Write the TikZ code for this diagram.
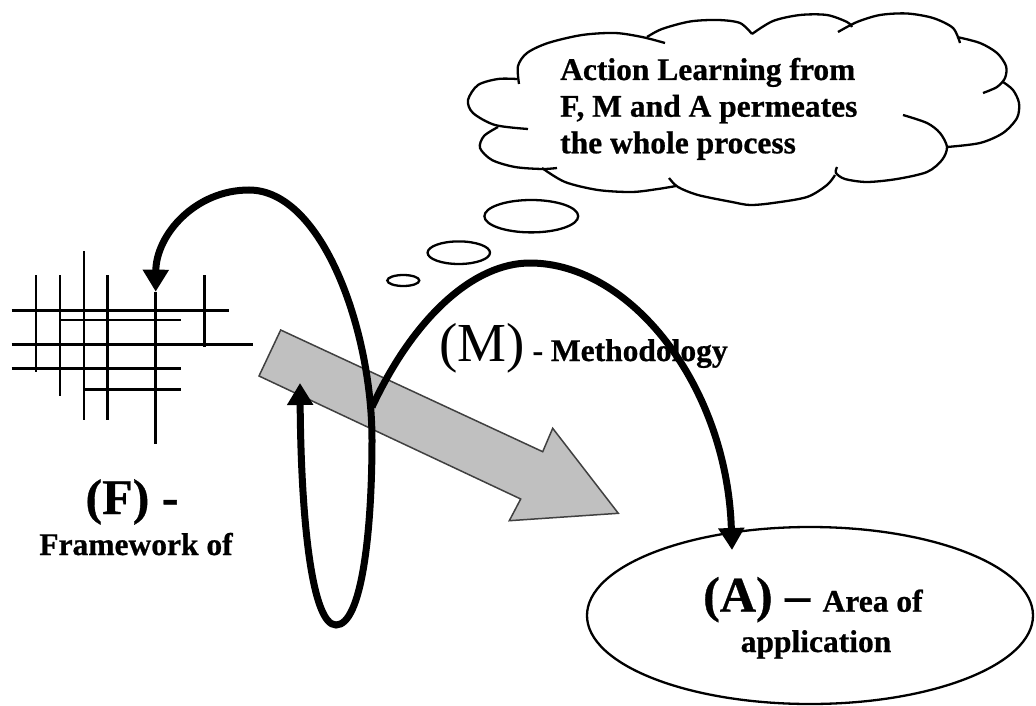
\documentclass[tikz,border=0pt]{standalone}
\usepackage{fontspec}
\setmainfont{Liberation Serif}[BoldFeatures={FakeBold=0.7}]
\usetikzlibrary{arrows.meta,shapes.geometric}
\definecolor{shaftgrey}{RGB}{192,192,192}
\definecolor{shaftedge}{RGB}{64,64,64}
\newcommand\hugelab{\fontsize{50}{54}\selectfont}
\newcommand\mlabfont{\fontsize{55}{58}\selectfont}
\newcommand\smalllab{\fontsize{31.5}{36}\selectfont\bfseries}
\begin{document}
\begin{tikzpicture}[x=1pt,y=-1pt,
  gridline/.style={line width=2.5pt},
  thinline/.style={line width=2.3pt},
  curve/.style={line width=7pt},
  bigtip/.tip={Triangle[length=22pt,width=25pt]},
  lab/.style={inner sep=0pt}]
\fill[white] (0,0) rectangle (1036,706);
\useasboundingbox (0,0) rectangle (1036,706);

% framework grid
\draw[gridline] (36,275) -- (36,371.7)
                (60,275) -- (60,395.7)
                (84,251) -- (84,420)
                (107.7,275) -- (107.7,420)
                (155.7,291.7) -- (155.7,444)
                (204.3,275) -- (204.3,347);
\draw[gridline] (11.7,310.7) -- (228.7,310.7)
                (60,320) -- (180.7,320)
                (11.7,344.3) -- (252.7,344.3)
                (11.7,368.3) -- (180.7,368.3)
                (84,389.3) -- (180.7,389.3);

% grey block arrow
\draw[fill=shaftgrey, draw=shaftedge, line width=1.5pt]
  (280.7,330) -- (542.7,451.7) -- (552.7,428.3) -- (618.3,513.3)
  -- (509.3,520.7) -- (520.7,499) -- (259,376) -- cycle;

% application area
\node[draw, ellipse, line width=2.3pt, minimum width=446pt, minimum height=177pt] (area) at (810,615.5) {};

% named ends of the loops
\coordinate (gridtop) at (155.7,291.7);
\coordinate (looptip) at (300,383);
\coordinate (arcfoot) at (372,407);
\coordinate (areatip) at (732,550);

% loop back to the framework
\draw[curve, {bigtip}-{bigtip}] (looptip)
  .. controls (301,520) and (312,625) .. (336,625)
  .. controls (362,625) and (372,530) .. (372,440)
  .. controls (372,330) and (322,190) .. (249,190)
  .. controls (195,190) and (156,235) .. (gridtop);

% arc towards the application area
\draw[curve, -{bigtip}] (arcfoot)
  .. controls (415,315) and (475,263) .. (530,263)
  .. controls (630,263) and (727,385) .. (areatip);

% thought bubbles
\draw[thinline] (403.3,280.5) ellipse [x radius=16, y radius=5.5];
\draw[thinline] (458.8,252.7) ellipse [x radius=31.2, y radius=11.3];
\draw[thinline] (531.3,216.2) ellipse [x radius=46.9, y radius=16.2];

% cloud outline, bump by bump
\draw[thinline] plot[smooth] coordinates {(519,84) (518,66) (527,53) (548,43) (582,35) (615,33) (642,37) (665,43)};
\draw[thinline] plot[smooth] coordinates {(647,37) (662,29) (690,21.5) (718,20) (740,23) (752,34)};
\draw[thinline] plot[smooth] coordinates {(752,34) (773,21) (800,15) (827,15) (847,22) (852,27)};
\draw[thinline] plot[smooth] coordinates {(838,32) (857,22) (880,15) (907,13.5) (933,18) (953,28) (960,43)};
\draw[thinline] plot[smooth] coordinates {(957,37) (980,43) (997,53) (1006,66) (1005,78) (997,87) (983,93)};
\draw[thinline] plot[smooth] coordinates {(1003,82) (1013,90) (1019,103) (1017,118) (1003,133) (980,143) (947,147)};
\draw[thinline] plot[smooth] coordinates {(903,115) (927,123) (940,133) (947,147) (942,160) (927,172) (897,179) (867,182) (845,179) (836,173) (837,167)};
\draw[thinline] plot[smooth] coordinates {(835,175) (827,185) (807,197) (773,203) (750,205) (732,202) (698,195) (678,187) (669,178)};
\draw[thinline] plot[smooth] coordinates {(542,168) (565,182) (598,190) (632,192) (658,189) (676,186)};
\draw[thinline] plot[smooth] coordinates {(498,127) (484,136) (480,148) (492,160) (515,167) (542,169) (557,168)};
\draw[thinline] plot[smooth] coordinates {(517,79) (498,79) (478,85) (468,100) (473,113) (495,125) (528,129)};

% cloud text
\node[lab, anchor=base west] (cloudA) at (560,80) {\smalllab Action Learning from};
\node[lab, anchor=base west] (cloudB) at (560,116.7) {\smalllab F, M and A permeates};
\node[lab, anchor=base west] (cloudC) at (560,153.3) {\smalllab the whole process};

% labels
\node[lab, anchor=base west] (mlab) at (439,361) {{\mlabfont(M)}{\smalllab\ - Methodology}};
\node[lab, anchor=base] (flab) at (132,514) {\hugelab\bfseries (F) -};
\node[lab, anchor=base] (fsub) at (136,555) {\smalllab Framework of};
\node[lab, anchor=base west] (alab) at (703,611.7) {{\hugelab\bfseries (A) -- }{\smalllab Area of}};
\node[lab, anchor=base] (asub) at (816,652) {\smalllab application};
\end{tikzpicture}
\end{document}
